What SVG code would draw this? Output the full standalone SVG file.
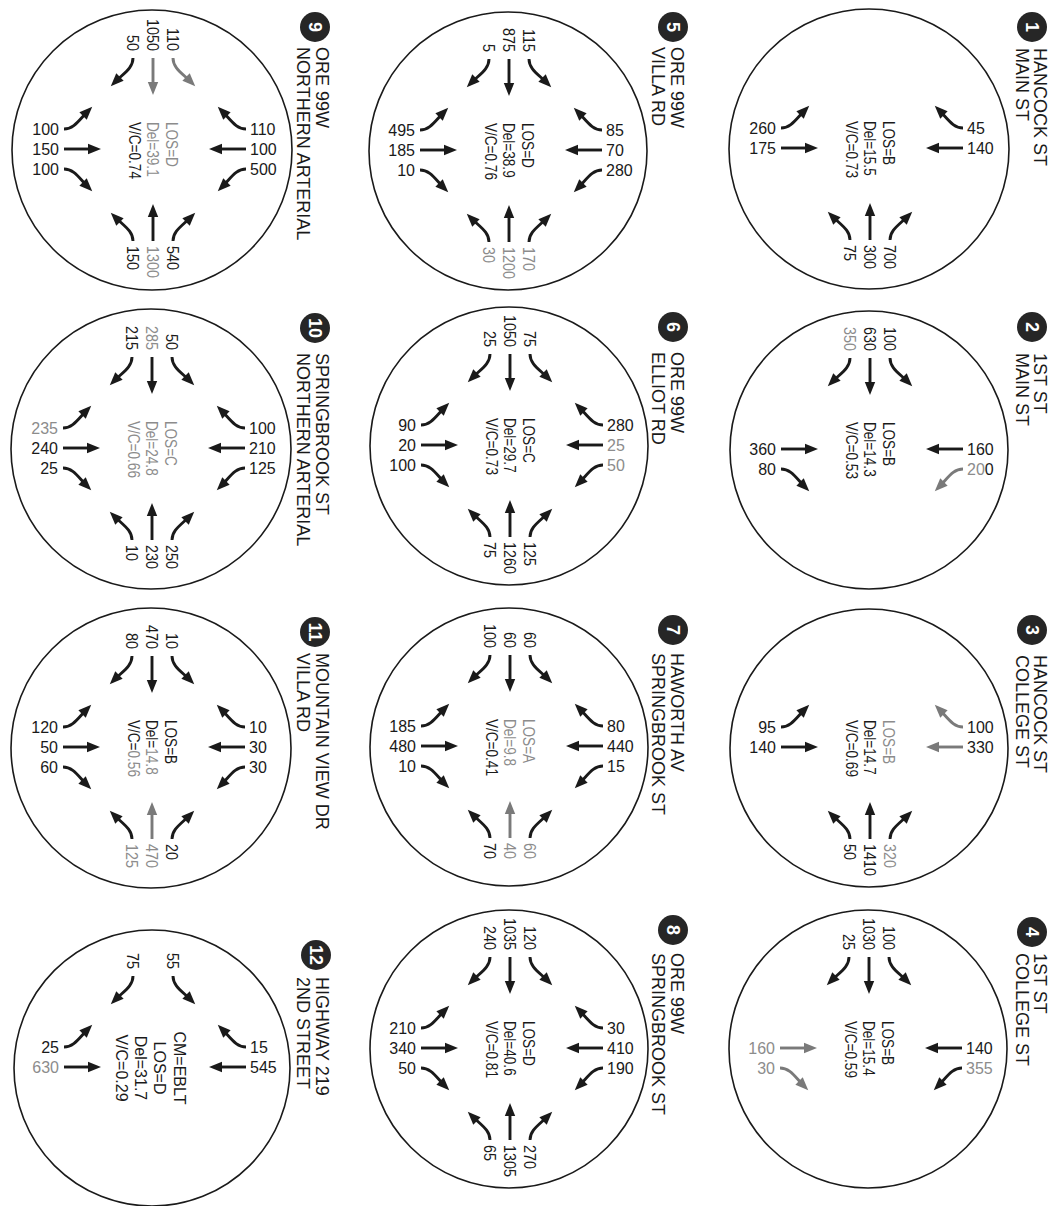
<svg xmlns="http://www.w3.org/2000/svg" xmlns:xlink="http://www.w3.org/1999/xlink" width="1063" height="1206" viewBox="0 0 1063 1206">
<style>
text{font-family:"Liberation Sans",Arial,Helvetica,sans-serif;font-size:16px;fill:#1a1a1a}
.t{font-size:18px}
.bn{font-size:18px;font-weight:bold;fill:#fff;text-anchor:middle}
.e{text-anchor:end}
.m{text-anchor:middle}
.g{fill:#8c8c8c}
.c{fill:none;stroke:#1a1a1a;stroke-width:1.6}
.b{fill:#262626}
.a{fill:none;stroke:#1a1a1a;stroke-width:2.9;marker-end:url(#ah)}
.ag{fill:none;stroke:#7a7a7a;stroke-width:2.9;marker-end:url(#ahg)}
</style>
<defs>
<marker id="ah" viewBox="-8 -6 15 12" refX="0" refY="0" markerWidth="15" markerHeight="12" markerUnits="userSpaceOnUse" orient="auto"><path d="M-7,-5.2 L6,0 L-7,5.2 Z" fill="#1a1a1a"/></marker>
<marker id="ahg" viewBox="-8 -6 15 12" refX="0" refY="0" markerWidth="15" markerHeight="12" markerUnits="userSpaceOnUse" orient="auto"><path d="M-7,-5.2 L6,0 L-7,5.2 Z" fill="#7a7a7a"/></marker>
<path id="S" d="M0,-37 L0,-6"/>
<path id="P" d="M20,-37 C20,-27 29,-22 38,-13"/>
<path id="N" d="M-20,-37 C-20,-27 -29,-22 -38,-13"/>
</defs>
<rect width="1063" height="1206" fill="#fff"/>

<g id="n1">
<circle class="c" cx="869" cy="149" r="140"/>
<g transform="translate(869,149)">
<g transform="translate(57,-1) rotate(90)"><use href="#S" class="a"/><use href="#N" class="a"/></g>
<g transform="translate(1,54) rotate(180)"><use href="#P" class="a"/><use href="#S" class="a"/><use href="#N" class="a"/></g>
<g transform="translate(-51,-1) rotate(-90)"><use href="#P" class="a"/><use href="#S" class="a"/></g>
<text x="-93" y="-15.3" class="e">260</text><text x="-93" y="4.7" class="e">175</text>
<text x="98" y="-15.3">45</text><text x="98" y="4.7">140</text>
<g transform="rotate(90) scale(0.9,1)"><text x="106.7" y="-15.3">700</text><text x="106.7" y="4.7">300</text><text x="106.7" y="24.7">75</text></g>
<g transform="rotate(90) scale(0.85,1)"><text x="-33" y="-14.5">LOS=B</text><text x="-33" y="4.5">Del=15.5</text><text x="-33" y="23.5">V/C=0.73</text></g>
</g>
<circle class="b" cx="1032" cy="27" r="15"/><text class="bn" transform="translate(1026,27) rotate(90)">1</text>
<text class="t" transform="translate(1034,48) rotate(90)">HANCOCK ST</text>
<text class="t" transform="translate(1016,48) rotate(90)">MAIN ST</text>
</g>

<g id="n2">
<circle class="c" cx="869" cy="450" r="139"/>
<g transform="translate(869,450)">
<g transform="translate(1,-55)"><use href="#P" class="a"/><use href="#S" class="a"/><use href="#N" class="a"/></g>
<g transform="translate(57,-1) rotate(90)"><use href="#S" class="a"/><use href="#P" class="ag"/></g>
<g transform="translate(-51,-1) rotate(-90)"><use href="#S" class="a"/><use href="#N" class="a"/></g>
<text x="-93" y="4.7" class="e">360</text><text x="-93" y="24.7" class="e">80</text>
<text x="98" y="4.7">160</text><text x="98" y="24.7"><tspan class="g">20</tspan>0</text>
<g transform="rotate(90) scale(0.9,1)"><text x="-110" y="-15.3" class="e">100</text><text x="-110" y="4.7" class="e">630</text><text x="-110" y="24.7" class="e g">350</text></g>
<g transform="rotate(90) scale(0.85,1)"><text x="-33" y="-14.5">LOS=B</text><text x="-33" y="4.5">Del=14.3</text><text x="-33" y="23.5">V/C=0.53</text></g>
</g>
<circle class="b" cx="1032" cy="327" r="15"/><text class="bn" transform="translate(1026,327) rotate(90)">2</text>
<text class="t" transform="translate(1034,353) rotate(90)">1ST ST</text>
<text class="t" transform="translate(1016,353) rotate(90)">MAIN ST</text>
</g>

<g id="n3">
<circle class="c" cx="869" cy="748" r="139"/>
<g transform="translate(869,748)">
<g transform="translate(57,-1) rotate(90)"><use href="#S" class="ag"/><use href="#N" class="ag"/></g>
<g transform="translate(1,54) rotate(180)"><use href="#P" class="a"/><use href="#S" class="a"/><use href="#N" class="a"/></g>
<g transform="translate(-51,-1) rotate(-90)"><use href="#P" class="a"/><use href="#S" class="a"/></g>
<text x="-93" y="-15.3" class="e">95</text><text x="-93" y="4.7" class="e">140</text>
<text x="98" y="-15.3">100</text><text x="98" y="4.7">330</text>
<g transform="rotate(90) scale(0.9,1)"><text x="106.7" y="-15.3" class="g">320</text><text x="106.7" y="4.7">1410</text><text x="106.7" y="24.7">50</text></g>
<g transform="rotate(90) scale(0.85,1)"><text x="-33" y="-14.5" class="g">LOS=B</text><text x="-33" y="4.5">Del=14.7</text><text x="-33" y="23.5">V/C=0.69</text></g>
</g>
<circle class="b" cx="1032" cy="630" r="15"/><text class="bn" transform="translate(1026,630) rotate(90)">3</text>
<text class="t" transform="translate(1034,655) rotate(90)">HANCOCK ST</text>
<text class="t" transform="translate(1016,655) rotate(90)">COLLEGE ST</text>
</g>

<g id="n4">
<circle class="c" cx="868" cy="1049" r="139"/>
<g transform="translate(868,1049)">
<g transform="translate(1,-55)"><use href="#P" class="a"/><use href="#S" class="a"/><use href="#N" class="a"/></g>
<g transform="translate(57,-1) rotate(90)"><use href="#S" class="a"/><use href="#P" class="a"/></g>
<g transform="translate(-51,-1) rotate(-90)"><use href="#S" class="ag"/><use href="#N" class="ag"/></g>
<text x="-93" y="4.7" class="e g">160</text><text x="-93" y="24.7" class="e g">30</text>
<text x="98" y="4.7">140</text><text x="98" y="24.7" class="g">355</text>
<g transform="rotate(90) scale(0.9,1)"><text x="-110" y="-15.3" class="e">100</text><text x="-110" y="4.7" class="e">1030</text><text x="-110" y="24.7" class="e">25</text></g>
<g transform="rotate(90) scale(0.85,1)"><text x="-33" y="-14.5">LOS=B</text><text x="-33" y="4.5">Del=15.4</text><text x="-33" y="23.5">V/C=0.59</text></g>
</g>
<circle class="b" cx="1032" cy="932" r="15"/><text class="bn" transform="translate(1026,932) rotate(90)">4</text>
<text class="t" transform="translate(1034,953) rotate(90)">1ST ST</text>
<text class="t" transform="translate(1016,953) rotate(90)">COLLEGE ST</text>
</g>

<g id="n5">
<circle class="c" cx="508" cy="151" r="139"/>
<g transform="translate(508,151)">
<g transform="translate(1,-55)"><use href="#P" class="a"/><use href="#S" class="a"/><use href="#N" class="a"/></g>
<g transform="translate(57,-1) rotate(90)"><use href="#P" class="a"/><use href="#S" class="a"/><use href="#N" class="a"/></g>
<g transform="translate(1,54) rotate(180)"><use href="#P" class="a"/><use href="#S" class="a"/><use href="#N" class="a"/></g>
<g transform="translate(-51,-1) rotate(-90)"><use href="#P" class="a"/><use href="#S" class="a"/><use href="#N" class="a"/></g>
<text x="-93" y="-15.3" class="e">495</text><text x="-93" y="4.7" class="e">185</text><text x="-93" y="24.7" class="e">10</text>
<text x="98" y="-15.3">85</text><text x="98" y="4.7">70</text><text x="98" y="24.7">280</text>
<g transform="rotate(90) scale(0.9,1)"><text x="-110" y="-15.3" class="e">115</text><text x="-110" y="4.7" class="e">875</text><text x="-110" y="24.7" class="e">5</text>
<text x="106.7" y="-15.3" class="g">170</text><text x="106.7" y="4.7" class="g">1200</text><text x="106.7" y="24.7" class="g">30</text></g>
<g transform="rotate(90) scale(0.85,1)"><text x="-33" y="-14.5">LOS=D</text><text x="-33" y="4.5">Del=38.9</text><text x="-33" y="23.5">V/C=0.76</text></g>
</g>
<circle class="b" cx="673" cy="27" r="15"/><text class="bn" transform="translate(667,27) rotate(90)">5</text>
<text class="t" transform="translate(671,47) rotate(90)">ORE 99W</text>
<text class="t" transform="translate(652,47) rotate(90)">VILLA RD</text>
</g>

<g id="n6">
<circle class="c" cx="509" cy="446" r="139"/>
<g transform="translate(509,446)">
<g transform="translate(1,-55)"><use href="#P" class="a"/><use href="#S" class="a"/><use href="#N" class="a"/></g>
<g transform="translate(57,-1) rotate(90)"><use href="#P" class="a"/><use href="#S" class="a"/><use href="#N" class="a"/></g>
<g transform="translate(1,54) rotate(180)"><use href="#P" class="a"/><use href="#S" class="a"/><use href="#N" class="a"/></g>
<g transform="translate(-51,-1) rotate(-90)"><use href="#P" class="a"/><use href="#S" class="a"/><use href="#N" class="a"/></g>
<text x="-93" y="-15.3" class="e">90</text><text x="-93" y="4.7" class="e">20</text><text x="-93" y="24.7" class="e">100</text>
<text x="98" y="-15.3">280</text><text x="98" y="4.7" class="g">25</text><text x="98" y="24.7" class="g">50</text>
<g transform="rotate(90) scale(0.9,1)"><text x="-110" y="-15.3" class="e">75</text><text x="-110" y="4.7" class="e">1050</text><text x="-110" y="24.7" class="e">25</text>
<text x="106.7" y="-15.3">125</text><text x="106.7" y="4.7">1260</text><text x="106.7" y="24.7">75</text></g>
<g transform="rotate(90) scale(0.85,1)"><text x="-33" y="-14.5">LOS=C</text><text x="-33" y="4.5">Del=29.7</text><text x="-33" y="23.5">V/C=0.73</text></g>
</g>
<circle class="b" cx="673" cy="327" r="15"/><text class="bn" transform="translate(667,327) rotate(90)">6</text>
<text class="t" transform="translate(671,352) rotate(90)">ORE 99W</text>
<text class="t" transform="translate(652,352) rotate(90)">ELLIOT RD</text>
</g>

<g id="n7">
<circle class="c" cx="509" cy="747" r="139"/>
<g transform="translate(509,747)">
<g transform="translate(1,-55)"><use href="#P" class="a"/><use href="#S" class="a"/><use href="#N" class="a"/></g>
<g transform="translate(57,-1) rotate(90)"><use href="#P" class="a"/><use href="#S" class="a"/><use href="#N" class="a"/></g>
<g transform="translate(1,54) rotate(180)"><use href="#P" class="a"/><use href="#S" class="ag"/><use href="#N" class="a"/></g>
<g transform="translate(-51,-1) rotate(-90)"><use href="#P" class="a"/><use href="#S" class="a"/><use href="#N" class="a"/></g>
<text x="-93" y="-15.3" class="e">185</text><text x="-93" y="4.7" class="e">480</text><text x="-93" y="24.7" class="e">10</text>
<text x="98" y="-15.3">80</text><text x="98" y="4.7">440</text><text x="98" y="24.7">15</text>
<g transform="rotate(90) scale(0.9,1)"><text x="-110" y="-15.3" class="e">60</text><text x="-110" y="4.7" class="e">60</text><text x="-110" y="24.7" class="e">100</text>
<text x="106.7" y="-15.3" class="g">60</text><text x="106.7" y="4.7" class="g">40</text><text x="106.7" y="24.7">70</text></g>
<g transform="rotate(90) scale(0.85,1)"><text x="-33" y="-14.5" class="g">LOS=A</text><text x="-33" y="4.5" class="g">Del=9.8</text><text x="-33" y="23.5">V/C=0.41</text></g>
</g>
<circle class="b" cx="673" cy="630" r="15"/><text class="bn" transform="translate(667,630) rotate(90)">7</text>
<text class="t" transform="translate(671,653) rotate(90)">HAWORTH AV</text>
<text class="t" transform="translate(652,653) rotate(90)">SPRINGBROOK ST</text>
</g>

<g id="n8">
<circle class="c" cx="509" cy="1049" r="139"/>
<g transform="translate(509,1049)">
<g transform="translate(1,-55)"><use href="#P" class="a"/><use href="#S" class="a"/><use href="#N" class="a"/></g>
<g transform="translate(57,-1) rotate(90)"><use href="#P" class="a"/><use href="#S" class="a"/><use href="#N" class="a"/></g>
<g transform="translate(1,54) rotate(180)"><use href="#P" class="a"/><use href="#S" class="a"/><use href="#N" class="a"/></g>
<g transform="translate(-51,-1) rotate(-90)"><use href="#P" class="a"/><use href="#S" class="a"/><use href="#N" class="a"/></g>
<text x="-93" y="-15.3" class="e">210</text><text x="-93" y="4.7" class="e">340</text><text x="-93" y="24.7" class="e">50</text>
<text x="98" y="-15.3">30</text><text x="98" y="4.7">410</text><text x="98" y="24.7">190</text>
<g transform="rotate(90) scale(0.9,1)"><text x="-110" y="-15.3" class="e">120</text><text x="-110" y="4.7" class="e">1035</text><text x="-110" y="24.7" class="e">240</text>
<text x="106.7" y="-15.3">270</text><text x="106.7" y="4.7">1305</text><text x="106.7" y="24.7">65</text></g>
<g transform="rotate(90) scale(0.85,1)"><text x="-33" y="-14.5">LOS=D</text><text x="-33" y="4.5">Del=40.6</text><text x="-33" y="23.5">V/C=0.81</text></g>
</g>
<circle class="b" cx="673" cy="930" r="15"/><text class="bn" transform="translate(667,930) rotate(90)">8</text>
<text class="t" transform="translate(671,953) rotate(90)">ORE 99W</text>
<text class="t" transform="translate(652,953) rotate(90)">SPRINGBROOK ST</text>
</g>

<g id="n9">
<circle class="c" cx="152" cy="150" r="140"/>
<g transform="translate(152,150)">
<g transform="translate(1,-55)"><use href="#P" class="ag"/><use href="#S" class="ag"/><use href="#N" class="a"/></g>
<g transform="translate(57,-1) rotate(90)"><use href="#P" class="a"/><use href="#S" class="a"/><use href="#N" class="a"/></g>
<g transform="translate(1,54) rotate(180)"><use href="#P" class="a"/><use href="#S" class="a"/><use href="#N" class="a"/></g>
<g transform="translate(-51,-1) rotate(-90)"><use href="#P" class="a"/><use href="#S" class="a"/><use href="#N" class="a"/></g>
<text x="-93" y="-15.3" class="e">100</text><text x="-93" y="4.7" class="e">150</text><text x="-93" y="24.7" class="e">100</text>
<text x="98" y="-15.3">110</text><text x="98" y="4.7">100</text><text x="98" y="24.7">500</text>
<g transform="rotate(90) scale(0.9,1)"><text x="-110" y="-15.3" class="e">110</text><text x="-110" y="4.7" class="e">1050</text><text x="-110" y="24.7" class="e">50</text>
<text x="106.7" y="-15.3">540</text><text x="106.7" y="4.7" class="g">1300</text><text x="106.7" y="24.7">150</text></g>
<g transform="rotate(90) scale(0.85,1)"><text x="-33" y="-14.5" class="g">LOS=D</text><text x="-33" y="4.5" class="g">Del=39.1</text><text x="-33" y="23.5">V/C=0.74</text></g>
</g>
<circle class="b" cx="315" cy="27" r="15"/><text class="bn" transform="translate(309,27) rotate(90)">9</text>
<text class="t" transform="translate(315.5,47) rotate(90)">ORE 99W</text>
<text class="t" transform="translate(297,47) rotate(90)">NORTHERN ARTERIAL</text>
</g>

<g id="n10">
<circle class="c" cx="151" cy="449" r="140"/>
<g transform="translate(151,449)">
<g transform="translate(1,-55)"><use href="#P" class="a"/><use href="#S" class="a"/><use href="#N" class="a"/></g>
<g transform="translate(57,-1) rotate(90)"><use href="#P" class="a"/><use href="#S" class="a"/><use href="#N" class="a"/></g>
<g transform="translate(1,54) rotate(180)"><use href="#P" class="a"/><use href="#S" class="a"/><use href="#N" class="a"/></g>
<g transform="translate(-51,-1) rotate(-90)"><use href="#P" class="a"/><use href="#S" class="a"/><use href="#N" class="a"/></g>
<text x="-93" y="-15.3" class="e g">235</text><text x="-93" y="4.7" class="e">240</text><text x="-93" y="24.7" class="e">25</text>
<text x="98" y="-15.3">100</text><text x="98" y="4.7">210</text><text x="98" y="24.7">125</text>
<g transform="rotate(90) scale(0.9,1)"><text x="-110" y="-15.3" class="e">50</text><text x="-110" y="4.7" class="e g">285</text><text x="-110" y="24.7" class="e">215</text>
<text x="106.7" y="-15.3">250</text><text x="106.7" y="4.7">230</text><text x="106.7" y="24.7">10</text></g>
<g transform="rotate(90) scale(0.85,1)"><text x="-33" y="-14.5" class="g">LOS=C</text><text x="-33" y="4.5" class="g">Del=24.8</text><text x="-33" y="23.5" class="g">V/C=0.66</text></g>
</g>
<circle class="b" cx="315" cy="328" r="15"/><text class="bn" transform="translate(309,328) rotate(90)">10</text>
<text class="t" transform="translate(315.5,353) rotate(90)">SPRINGBROOK ST</text>
<text class="t" transform="translate(297,353) rotate(90)">NORTHERN ARTERIAL</text>
</g>

<g id="n11">
<circle class="c" cx="151" cy="748" r="140"/>
<g transform="translate(151,748)">
<g transform="translate(1,-55)"><use href="#P" class="a"/><use href="#S" class="a"/><use href="#N" class="a"/></g>
<g transform="translate(57,-1) rotate(90)"><use href="#P" class="a"/><use href="#S" class="a"/><use href="#N" class="a"/></g>
<g transform="translate(1,54) rotate(180)"><use href="#P" class="a"/><use href="#S" class="ag"/><use href="#N" class="a"/></g>
<g transform="translate(-51,-1) rotate(-90)"><use href="#P" class="a"/><use href="#S" class="a"/><use href="#N" class="a"/></g>
<text x="-93" y="-15.3" class="e">120</text><text x="-93" y="4.7" class="e">50</text><text x="-93" y="24.7" class="e">60</text>
<text x="98" y="-15.3">10</text><text x="98" y="4.7">30</text><text x="98" y="24.7">30</text>
<g transform="rotate(90) scale(0.9,1)"><text x="-110" y="-15.3" class="e">10</text><text x="-110" y="4.7" class="e">470</text><text x="-110" y="24.7" class="e">80</text>
<text x="106.7" y="-15.3">20</text><text x="106.7" y="4.7" class="g">470</text><text x="106.7" y="24.7" class="g">125</text></g>
<g transform="rotate(90) scale(0.85,1)"><text x="-33" y="-14.5">LOS=B</text><text x="-33" y="4.5">Del=<tspan class="g">14.8</tspan></text><text x="-33" y="23.5">V/C=<tspan class="g">0.56</tspan></text></g>
</g>
<circle class="b" cx="315" cy="632" r="15"/><text class="bn" transform="translate(309,632) rotate(90)">11</text>
<text class="t" transform="translate(315.5,653) rotate(90)">MOUNTAIN VIEW DR</text>
<text class="t" transform="translate(297,653) rotate(90)">VILLA RD</text>
</g>

<g id="n12">
<circle class="c" cx="152" cy="1068" r="138"/>
<g transform="translate(152,1068)">
<g transform="translate(1,-55)"><use href="#P" class="a"/><use href="#N" class="a"/></g>
<g transform="translate(57,-1) rotate(90)"><use href="#S" class="a"/><use href="#N" class="a"/></g>
<g transform="translate(-51,-1) rotate(-90)"><use href="#P" class="a"/><use href="#S" class="a"/></g>
<text x="-93" y="-15.3" class="e">25</text><text x="-93" y="4.7" class="e g">630</text>
<text x="98" y="-15.3">15</text><text x="98" y="4.7">545</text>
<g transform="rotate(90) scale(0.9,1)"><text x="-110" y="-15.3" class="e">55</text><text x="-110" y="24.7" class="e">75</text></g>
<g transform="rotate(90)"><text class="m" x="0" y="-22">CM=EBLT</text><text class="m" x="0" y="-2">LOS=D</text><text class="m" x="0" y="17">Del=31.7</text><text class="m" x="0" y="36">V/C=0.29</text></g>
</g>
<circle class="b" cx="316" cy="955" r="15"/><text class="bn" transform="translate(310,955) rotate(90)">12</text>
<text class="t" transform="translate(315.5,977) rotate(90)">HIGHWAY 219</text>
<text class="t" transform="translate(297,977) rotate(90)">2ND STREET</text>
</g>
</svg>
